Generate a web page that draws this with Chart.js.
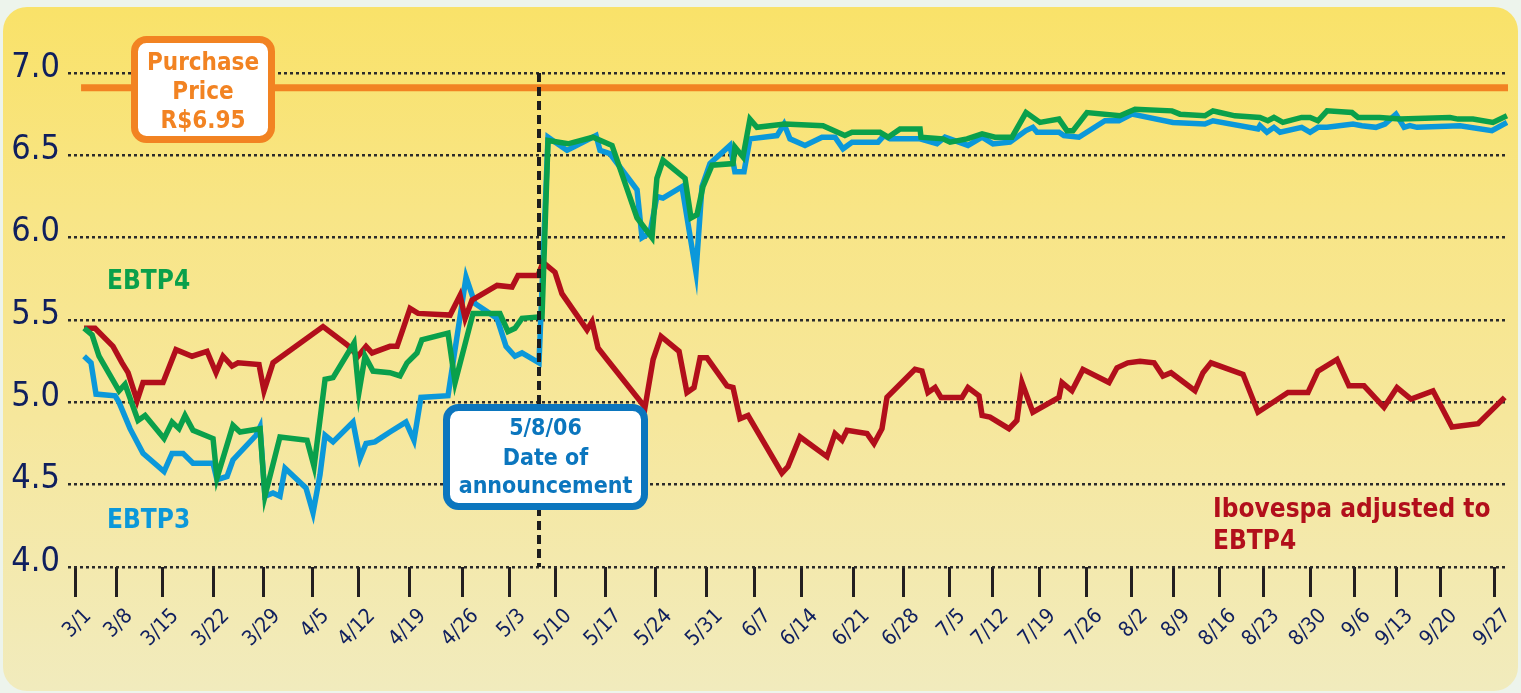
<!DOCTYPE html>
<html>
<head>
<meta charset="utf-8">
<script src="https://cdn.jsdelivr.net/npm/chart.js@4.4.1/dist/chart.umd.min.js"></script>
<style>
  html, body { margin: 0; padding: 0; background: #edf4ec; }
  #wrap { position: relative; width: 1521px; height: 693px; overflow: hidden; }
  #card { position: absolute; left: 3px; top: 7px; width: 1515px; height: 684px; border-radius: 24px;
          background: linear-gradient(180deg, #f9e269 0%, #f8e586 30%, #f6e79c 60%, #f1ebbd 100%); }
  canvas { position: absolute; left: 0; top: 0; }
</style>
</head>
<body>
<div id="wrap">
  <div id="card"></div>
  <canvas id="c" width="1521" height="693"></canvas>
</div>
<script>
// ---------- DATA ----------
// x = trading-day index from 3/1/2006
const tickLabels = ['3/1','3/8','3/15','3/22','3/29','4/5','4/12','4/19','4/26','5/3','5/10','5/17','5/24','5/31','6/7','6/14','6/21','6/28','7/5','7/12','7/19','7/26','8/2','8/9','8/16','8/23','8/30','9/6','9/13','9/20','9/27'];
const tickDays = [0,4.4,9.3,14.7,20.1,25.3,30.2,35.6,41.2,46.2,51.1,56.4,61.8,67.2,72.3,77.3,82.8,88.1,93.0,97.6,102.6,107.6,112.4,116.9,121.8,126.4,131.4,136.1,140.6,145.3,151.0];

const ebtp4Days = [0.96,1.81,2.55,4.68,5.32,6.7,7.45,9.47,10.32,11.06,11.7,12.55,14.68,15.1,16.8,17.55,19.68,20.2,21.8,24.68,25.43,26.6,27.45,29.68,30.2,30.85,31.7,33.5,34.57,35.32,36.38,36.9,39.68,40.43,42.34,45.2,46.06,46.8,47.55,49.68,50.32,52.45,55.1,57.13,59.79,61.38,61.9,62.55,64.9,65.53,66.17,66.8,67.77,70.0,70.2,71.06,71.8,72.55,75.53,79.57,81.9,82.66,85.64,86.5,87.77,89.9,90.0,92.34,93.09,94.9,96.5,97.87,99.68,101.17,102.66,104.68,105.53,106.17,107.66,111.17,112.77,116.7,117.55,120.2,121.06,121.8,123.4,126.06,126.9,127.55,128.5,130.5,131.4,132.23,133.2,135.85,136.5,138.8,140.96,146.28,147.13,148.72,150.85,152.34];
const ebtp4Values = [5.45,5.41,5.28,5.07,5.11,4.89,4.92,4.78,4.88,4.84,4.92,4.83,4.78,4.54,4.86,4.82,4.84,4.43,4.79,4.77,4.61,5.14,5.15,5.36,5.06,5.28,5.19,5.18,5.16,5.24,5.30,5.38,5.42,5.12,5.54,5.54,5.43,5.45,5.51,5.52,6.59,6.57,6.61,6.56,6.12,6.00,6.36,6.47,6.36,6.12,6.14,6.31,6.44,6.45,6.55,6.49,6.72,6.67,6.69,6.68,6.62,6.64,6.64,6.61,6.66,6.66,6.61,6.60,6.58,6.60,6.63,6.61,6.61,6.76,6.70,6.72,6.65,6.65,6.76,6.74,6.78,6.77,6.75,6.74,6.77,6.76,6.74,6.73,6.71,6.73,6.70,6.73,6.73,6.71,6.77,6.76,6.73,6.73,6.72,6.73,6.72,6.72,6.70,6.74];

const ebtp3Days = [0.96,1.7,2.23,4.26,4.68,5.85,7.23,9.47,10.32,11.49,12.55,14.68,15.1,16.17,16.8,19.26,19.68,20.2,21.06,21.8,22.34,24.57,25.32,26.06,26.6,27.45,29.57,30.32,30.96,31.9,33.5,35.2,36.06,36.8,39.68,41.6,42.55,44.9,45.85,46.8,47.55,49.36,50.32,52.34,55.43,55.85,56.9,59.79,60.32,61.17,61.9,62.55,64.57,66.06,66.7,67.55,69.68,70.2,71.17,71.8,74.68,75.43,76.06,77.66,79.47,80.85,81.7,82.66,85.43,86.06,86.7,89.9,91.7,92.55,95.0,96.5,97.66,99.47,101.17,101.9,102.34,104.68,105.2,106.8,109.57,111.06,112.45,116.8,120.2,121.06,125.85,126.06,126.8,127.55,128.2,130.5,131.4,132.23,133.2,135.96,136.9,138.4,139.36,140.53,141.4,142.0,142.77,147.34,150.74,152.34];
const ebtp3Values = [5.28,5.24,5.05,5.04,5.00,4.84,4.69,4.58,4.69,4.69,4.63,4.63,4.53,4.55,4.65,4.80,4.85,4.43,4.45,4.43,4.60,4.48,4.33,4.56,4.80,4.76,4.88,4.66,4.75,4.76,4.82,4.88,4.77,5.03,5.04,5.76,5.60,5.51,5.34,5.28,5.30,5.24,6.61,6.53,6.62,6.53,6.51,6.29,6.00,6.03,6.25,6.24,6.31,5.79,6.31,6.45,6.56,6.40,6.40,6.60,6.62,6.69,6.60,6.56,6.61,6.61,6.54,6.58,6.58,6.62,6.60,6.60,6.57,6.61,6.56,6.61,6.57,6.58,6.65,6.67,6.64,6.64,6.62,6.61,6.71,6.71,6.75,6.70,6.69,6.71,6.66,6.68,6.64,6.67,6.64,6.67,6.64,6.67,6.67,6.69,6.68,6.67,6.69,6.75,6.67,6.68,6.67,6.68,6.65,6.70];

const ibovDays = [0.96,2.13,4.04,5.0,5.64,6.6,7.23,9.36,10.74,12.45,14.04,15.0,15.74,16.7,17.34,19.57,20.1,21.06,26.38,28.94,30.1,30.96,31.6,33.5,34.26,35.64,36.49,39.9,40.96,41.5,42.23,44.9,46.49,47.13,49.26,49.79,51.06,51.8,54.47,55.0,55.64,56.6,60.64,61.5,62.34,64.26,65.1,65.85,66.5,67.23,69.36,70.0,70.74,71.6,75.2,75.85,77.13,80.0,80.85,81.6,82.13,84.26,85.0,85.85,86.38,89.36,90.1,90.74,91.5,92.13,94.36,95.0,96.17,96.5,97.34,99.36,100.2,100.74,101.9,104.68,105.0,106.06,107.23,110.0,110.85,112.0,113.3,114.8,115.74,116.6,119.15,120.0,120.85,124.26,125.85,129.04,131.17,132.23,134.26,135.53,137.13,139.26,140.64,142.13,144.47,146.49,149.26,152.1];
const ibovValues = [5.45,5.45,5.34,5.24,5.18,5.01,5.12,5.12,5.32,5.28,5.31,5.18,5.28,5.22,5.24,5.23,5.07,5.24,5.46,5.35,5.28,5.34,5.30,5.34,5.34,5.57,5.54,5.53,5.65,5.51,5.62,5.71,5.70,5.77,5.77,5.85,5.79,5.66,5.44,5.49,5.33,5.26,4.97,5.26,5.40,5.31,5.06,5.09,5.27,5.27,5.10,5.09,4.90,4.92,4.57,4.61,4.79,4.67,4.81,4.77,4.83,4.81,4.75,4.84,5.03,5.20,5.19,5.06,5.09,5.03,5.03,5.09,5.04,4.92,4.91,4.84,4.89,5.12,4.94,5.03,5.12,5.07,5.20,5.12,5.21,5.24,5.25,5.24,5.16,5.18,5.07,5.18,5.24,5.17,4.94,5.06,5.06,5.19,5.26,5.10,5.10,4.97,5.09,5.02,5.07,4.85,4.87,5.03];

const purchaseLineDays = [0.64, 152.45];
const purchaseLineValue = 6.91;
const announcementDay = 49.36;
const xMin = -0.75, xMax = 152.45;
const yMin = 4.0, yMax = 7.0, yStep = 0.5;

// ---------- STYLE ----------
const GREEN = '#0aa04b', BLUE = '#0b98da', RED = '#b20f1b', ORANGE = '#f28322', NAVY = '#0f1f5e', ABLUE = '#0b76be';
const FAM = "'DejaVu Sans Condensed', 'DejaVu Sans', sans-serif";

function pts(days, vals) {
  const n = Math.min(days.length, vals.length);
  const out = [];
  for (let i = 0; i < n; i++) out.push({ x: days[i], y: vals[i] });
  return out;
}

function rrect(ctx, x, y, w, h, r) {
  ctx.beginPath();
  ctx.moveTo(x + r, y);
  ctx.lineTo(x + w - r, y);
  ctx.arcTo(x + w, y, x + w, y + r, r);
  ctx.lineTo(x + w, y + h - r);
  ctx.arcTo(x + w, y + h, x + w - r, y + h, r);
  ctx.lineTo(x + r, y + h);
  ctx.arcTo(x, y + h, x, y + h - r, r);
  ctx.lineTo(x, y + r);
  ctx.arcTo(x, y, x + r, y, r);
  ctx.closePath();
}

const annotations = {
  id: 'annotations',
  afterDatasetsDraw(chart) {
    const ctx = chart.ctx, xs = chart.scales.x, ys = chart.scales.y;
    const px = xs.getPixelForValue(announcementDay);
    ctx.save();
    ctx.strokeStyle = '#1d1d1d';
    ctx.lineWidth = 4;
    ctx.setLineDash([9, 5]);
    ctx.beginPath();
    ctx.moveTo(px, ys.getPixelForValue(yMax));
    ctx.lineTo(px, ys.getPixelForValue(yMin));
    ctx.stroke();
    ctx.restore();
  },
  afterDraw(chart) {
    const ctx = chart.ctx;
    ctx.save();
    // Purchase price box
    rrect(ctx, 134.5, 39.5, 137, 100, 12);
    ctx.fillStyle = '#ffffff';
    ctx.fill();
    ctx.lineWidth = 7;
    ctx.strokeStyle = ORANGE;
    ctx.stroke();
    ctx.fillStyle = ORANGE;
    ctx.font = 'bold 24px ' + FAM;
    ctx.textAlign = 'center';
    ctx.textBaseline = 'alphabetic';
    ctx.fillText('Purchase', 203, 70);
    ctx.fillText('Price', 203, 99);
    ctx.fillText('R$6.95', 203, 128);

    // Announcement box
    rrect(ctx, 446.5, 407.5, 198, 99, 12);
    ctx.fillStyle = '#ffffff';
    ctx.fill();
    ctx.lineWidth = 7;
    ctx.strokeStyle = ABLUE;
    ctx.stroke();
    ctx.fillStyle = ABLUE;
    ctx.font = 'bold 23px ' + FAM;
    ctx.fillText('5/8/06', 545.5, 435);
    ctx.fillText('Date of', 545.5, 465);
    ctx.fillText('announcement', 545.5, 493);

    // Series labels
    ctx.textAlign = 'left';
    ctx.font = 'bold 26px ' + FAM;
    ctx.fillStyle = GREEN;
    ctx.fillText('EBTP4', 107, 289);
    ctx.fillStyle = BLUE;
    ctx.fillText('EBTP3', 107, 528);
    ctx.fillStyle = RED;
    ctx.fillText('Ibovespa adjusted to', 1213, 517);
    ctx.fillText('EBTP4', 1213, 549);
    ctx.restore();
  }
};

new Chart(document.getElementById('c'), {
  type: 'line',
  data: {
    datasets: [
      { label: 'EBTP4', data: pts(ebtp4Days, ebtp4Values), borderColor: GREEN, borderWidth: 5.5, pointRadius: 0, tension: 0, fill: false },
      { label: 'Ibovespa adjusted to EBTP4', data: pts(ibovDays, ibovValues), borderColor: RED, borderWidth: 5.5, pointRadius: 0, tension: 0, fill: false },
      { label: 'EBTP3', data: pts(ebtp3Days, ebtp3Values), borderColor: BLUE, borderWidth: 5.5, pointRadius: 0, tension: 0, fill: false },
      { label: 'Purchase Price', data: purchaseLineDays.map(d => ({ x: d, y: purchaseLineValue })), borderColor: ORANGE, borderWidth: 7, pointRadius: 0, fill: false, borderCapStyle: 'butt' }
    ]
  },
  options: {
    responsive: false,
    devicePixelRatio: 1,
    animation: false,
    layout: { padding: { top: 73, right: 13, left: 0, bottom: 0 } },
    plugins: { legend: { display: false }, tooltip: { enabled: false } },
    scales: {
      x: {
        type: 'linear',
        min: xMin, max: xMax,
        afterBuildTicks(scale) { scale.ticks = tickDays.map(v => ({ value: v })); },
        afterFit(scale) { scale.height = 126; },
        border: { display: false },
        grid: { drawOnChartArea: false, drawTicks: true, tickLength: 30, color: '#231f20', lineWidth: 3 },
        ticks: {
          autoSkip: false, minRotation: 45, maxRotation: 45, padding: 7, labelOffset: 13,
          color: NAVY, font: { family: FAM, size: 21 },
          callback(value, index) { return tickLabels[index]; }
        }
      },
      y: {
        type: 'linear',
        min: yMin, max: yMax,
        afterFit(scale) { scale.width = 68; },
        border: { display: false, dash: [3, 3] },
        grid: { drawTicks: false, color: '#2b2b2b', lineWidth: 2.5 },
        ticks: {
          stepSize: yStep, padding: 8, labelOffset: -5,
          color: NAVY, font: { family: FAM, size: 34 },
          callback(v) { return v.toFixed(1); }
        }
      }
    }
  },
  plugins: [annotations]
});
</script>
</body>
</html>
